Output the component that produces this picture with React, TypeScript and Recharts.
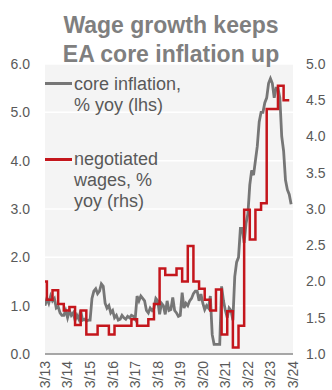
import React from 'react';
import { LineChart, Line, XAxis, YAxis, CartesianGrid } from 'recharts';

// Monthly, Mar 2013 (index 0) .. Feb 2024
const coreInflation: number[] = [
  // 2013 Mar-Dec
  1.0, 1.15, 1.05, 1.2, 1.1, 1.15, 0.95, 0.98, 0.85, 0.8,
  // 2014
  0.8, 0.9, 0.75, 0.9, 0.8, 0.85, 0.7, 0.8, 0.72, 0.9, 0.7, 0.72,
  // 2015
  0.68, 0.7, 0.7, 1.15, 1.3, 1.35, 1.25, 1.3, 1.45, 1.4, 1.05, 0.95,
  // 2016
  1.0, 0.85, 0.9, 0.75, 0.8, 0.7, 0.72, 0.8, 0.75, 0.72, 0.78, 0.75,
  // 2017
  0.8, 0.78, 0.72, 1.2, 1.1, 1.2, 1.15, 1.1, 0.9, 0.85, 0.95, 0.9,
  // 2018
  0.95, 1.15, 1.1, 0.82, 1.05, 1.0, 0.82, 1.1, 0.9, 0.92, 1.17, 0.9,
  // 2019
  0.85, 0.78, 0.8, 1.27, 0.95, 1.05, 1.0, 1.1, 1.15, 1.25, 1.3, 1.3,
  // 2020
  1.1, 1.24, 1.05, 0.92, 1.0, 0.95, 1.2, 0.4, 0.2, 0.2, 0.2, 0.2,
  // 2021
  1.4, 1.1, 0.9, 0.75, 0.95, 0.9, 0.7, 1.6, 1.9, 2.0, 2.6, 2.6,
  // 2022
  2.3, 2.7, 2.9, 3.5, 3.8, 3.7, 4.0, 4.3, 4.8, 5.0, 5.0, 5.2,
  // 2023
  5.3, 5.6, 5.7, 5.6, 5.3, 5.5, 5.5, 5.3, 4.5, 4.2, 3.6, 3.4,
  // 2024
  3.3, 3.1,
];

// Quarterly, Q1 2013 .. Q4 2023
const negotiatedWages: number[] = [
  2.0, 1.75, 1.88, 1.69,
  1.6, 1.65, 1.4, 1.6,
  1.27, 1.27, 1.39, 1.39,
  1.27, 1.39, 1.39, 1.39,
  1.48, 1.39, 1.39, 1.48,
  1.69, 2.18, 2.09, 2.09,
  2.18, 2.0, 2.49, 2.0,
  1.9, 1.75, 1.6, 1.89,
  1.27, 1.59, 1.09, 1.39,
  2.99, 2.58, 2.99, 3.08,
  4.38, 4.38, 4.7, 4.5,
];

const tickLabels: string[] = [
  '3/13', '3/14', '3/15', '3/16', '3/17', '3/18',
  '3/19', '3/20', '3/21', '3/22', '3/23', '3/24',
];
const leftTicks = [0, 1, 2, 3, 4, 5, 6];
const rightTicks = [1, 1.5, 2, 2.5, 3, 3.5, 4, 4.5, 5];

const coreData = coreInflation.map((v, i) => ({ m: i, core: v }));
const wageData = [
  ...negotiatedWages.map((v, k) => ({ m: Math.max(0, 3 * k - 2), wage: v })),
  { m: 3 * negotiatedWages.length - 2, wage: negotiatedWages[negotiatedWages.length - 1] },
];
const xTicks = tickLabels.map((_, i) => i * 12);

const FONT = '"Liberation Sans", Arial, sans-serif';
const GREY = '#767676';
const RED = '#c4161c';
const TEXT = '#595959';

const XTick = (props: any) => {
  const { x, y, payload } = props;
  const label = tickLabels[Math.round(payload.value / 12)];
  return (
    <text
      x={x}
      y={y}
      transform={`rotate(-90, ${x}, ${y})`}
      textAnchor="end"
      dy="0.35em"
      fill={TEXT}
      fontSize={14}
      fontFamily={FONT}
    >
      {label}
    </text>
  );
};

export default function App() {
  return (
    <div style={{ position: 'absolute', left: 0, top: 0, width: 332, height: 390, background: '#fff', overflow: 'hidden' }}>
      <LineChart
        width={332}
        height={390}
        margin={{ top: 64, right: 0, left: 0, bottom: 0 }}
        style={{ fontFamily: FONT }}
      >
        <CartesianGrid
          yAxisId="left"
          vertical={false}
          horizontal={true}
          stroke="#ffffff"
          strokeWidth={1.5}
          fill="#f4f4f4"
        />
        <XAxis
          dataKey="m"
          type="number"
          domain={[0, 132]}
          ticks={xTicks}
          allowDataOverflow
          height={36}
          tickLine={false}
          tickSize={0}
          tickMargin={7}
          axisLine={{ stroke: '#8a8a8a', strokeWidth: 1.5 }}
          tick={<XTick />}
          interval={0}
        />
        <YAxis
          yAxisId="left"
          orientation="left"
          domain={[0, 6]}
          ticks={leftTicks}
          width={45}
          axisLine={false}
          tickLine={false}
          tickSize={0}
          tickMargin={15}
          tickFormatter={(v: number) => v.toFixed(1)}
          tick={{ fill: TEXT, fontSize: 14, fontFamily: FONT }}
          interval={0}
        />
        <YAxis
          yAxisId="right"
          orientation="right"
          domain={[1, 5]}
          ticks={rightTicks}
          width={39}
          axisLine={false}
          tickLine={false}
          tickSize={0}
          tickMargin={13}
          tickFormatter={(v: number) => v.toFixed(1)}
          tick={{ fill: TEXT, fontSize: 14, fontFamily: FONT }}
          interval={0}
        />
        <Line
          yAxisId="left"
          data={coreData}
          dataKey="core"
          type="linear"
          stroke={GREY}
          strokeWidth={2.8}
          dot={false}
          isAnimationActive={false}
        />
        <Line
          yAxisId="right"
          data={wageData}
          dataKey="wage"
          type="stepAfter"
          stroke={RED}
          strokeWidth={2.5}
          dot={false}
          isAnimationActive={false}
        />
      </LineChart>
      <svg
        width={332}
        height={390}
        style={{ position: 'absolute', left: 0, top: 0, pointerEvents: 'none' }}
      >
        <g fontFamily={FONT}>
          <text x={171} y={32.5} textAnchor="middle" fontSize={23} fontWeight="bold" fill="#7f7f7f">
            Wage growth keeps
          </text>
          <text x={171} y={61.5} textAnchor="middle" fontSize={23} fontWeight="bold" fill="#7f7f7f">
            EA core inflation up
          </text>
          <line x1={45} x2={72} y1={83.5} y2={83.5} stroke={GREY} strokeWidth={3} />
          <text x={74} y={89.5} fontSize={18} fill={TEXT}>core inflation,</text>
          <text x={74} y={110.5} fontSize={18} fill={TEXT}>% yoy (lhs)</text>
          <line x1={45} x2={72} y1={159.5} y2={159.5} stroke={RED} strokeWidth={3} />
          <text x={74} y={165} fontSize={18} fill={TEXT}>negotiated</text>
          <text x={74} y={186} fontSize={18} fill={TEXT}>wages, %</text>
          <text x={74} y={207} fontSize={18} fill={TEXT}>yoy (rhs)</text>
        </g>
      </svg>
    </div>
  );
}
